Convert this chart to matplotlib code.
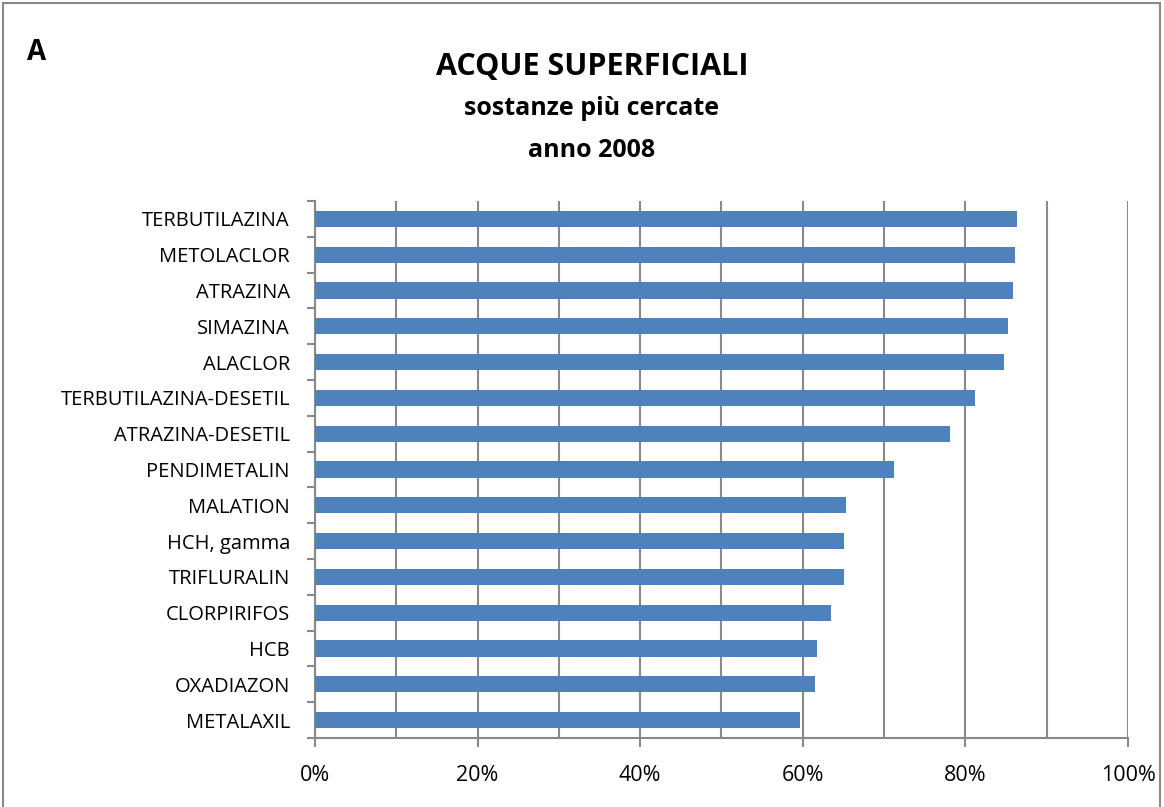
import matplotlib.pyplot as plt
import numpy as np
from matplotlib.patches import Rectangle

plt.rcParams['font.family'] = ['Open Sans', 'DejaVu Sans']

sostanze = ['TERBUTILAZINA', 'METOLACLOR', 'ATRAZINA', 'SIMAZINA', 'ALACLOR',
            'TERBUTILAZINA-DESETIL', 'ATRAZINA-DESETIL', 'PENDIMETALIN',
            'MALATION', 'HCH, gamma', 'TRIFLURALIN', 'CLORPIRIFOS', 'HCB',
            'OXADIAZON', 'METALAXIL']
percentuali = [86.3, 86.1, 85.9, 85.2, 84.7, 81.2, 78.1, 71.2,
               65.3, 65.1, 65.1, 63.5, 61.7, 61.5, 59.7]

W, H = 1164, 807
grigio = '#898989'
fig = plt.figure(figsize=(W / 100, H / 100), dpi=100)
ax = fig.add_axes([315 / W, 1 - 738 / H, (1128 - 315) / W, (738 - 201) / H])

# frame round the whole chart (bottom edge falls outside the picture)
fig.patches.append(Rectangle((3 / W, -0.02), 1 - 7 / W, 1.02 - 3 / H,
                             transform=fig.transFigure, fill=False,
                             edgecolor=grigio, linewidth=1.5))

y = np.arange(len(sostanze))
ax.barh(y, percentuali, height=0.45, color='#4F81BD', zorder=3)
ax.set_ylim(len(sostanze) - 0.5, -0.5)
ax.set_xlim(0, 100)

ax.set_yticks(y)
ax.set_yticklabels(sostanze, fontsize=14.5)
ax.set_yticks(np.arange(-0.5, len(sostanze), 1), minor=True)
ax.tick_params(axis='y', which='major', length=0, pad=18)
ax.tick_params(axis='y', which='minor', length=6, color=grigio, width=1.5)

ax.set_xticks(np.arange(0, 101, 20))
ax.set_xticklabels([f'{v}%' for v in range(0, 101, 20)], fontsize=15.5)
ax.set_xticks(np.arange(10, 100, 20), minor=True)
ax.tick_params(axis='x', which='major', length=6.5, color=grigio, width=1.5, pad=13)
ax.tick_params(axis='x', which='minor', length=0)
ax.grid(axis='x', which='both', color=grigio, linewidth=1.5, zorder=0)

for side in ['top', 'right']:
    ax.spines[side].set_visible(False)
for side in ['left', 'bottom']:
    ax.spines[side].set_color(grigio)
    ax.spines[side].set_linewidth(1.5)

fig.text(592 / W, 1 - 75 / H, 'ACQUE SUPERFICIALI', ha='center', va='baseline',
         fontsize=22, fontweight='bold')
fig.text(592 / W, 1 - 115 / H, 'sostanze più cercate', ha='center', va='baseline',
         fontsize=18, fontweight='bold')
fig.text(592 / W, 1 - 157 / H, 'anno 2008', ha='center', va='baseline',
         fontsize=18, fontweight='bold')
fig.text(27 / W, 1 - 60 / H, 'A', ha='left', va='baseline',
         fontsize=20, fontweight='bold')

fig.savefig('out.png', dpi=100)
